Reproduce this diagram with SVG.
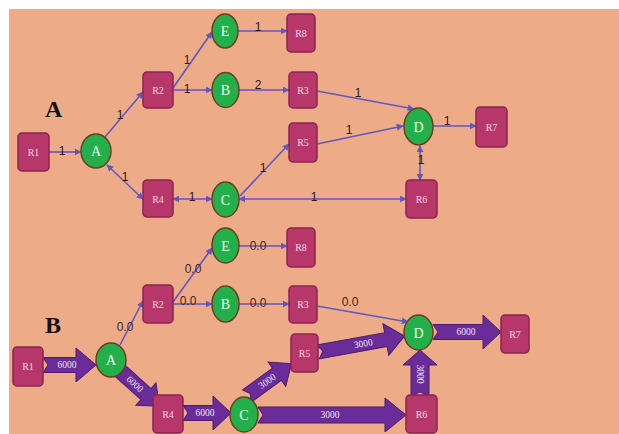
<svg xmlns="http://www.w3.org/2000/svg" width="619" height="434" viewBox="0 0 619 434">
<defs>
<marker id="ah" viewBox="0 0 10 10" refX="9" refY="5" markerWidth="7" markerHeight="7" markerUnits="userSpaceOnUse" orient="auto-start-reverse">
<path d="M0,0 L10,5 L0,10 z" fill="#6057c0"/>
</marker>
</defs>
<style>
.rn{fill:#b8376b;stroke:#8a2452;stroke-width:1.5}
.cn{fill:#23b04b;stroke:#6b3e25;stroke-width:1.5}
.nt{font-family:"Liberation Serif",serif;font-size:10px;fill:#f3d6e4;text-anchor:middle}
.ct{font-family:"Liberation Serif",serif;font-size:14px;fill:#eef8ee;text-anchor:middle}
.e{stroke:#6057c0;stroke-width:1.6;fill:none;marker-end:url(#ah)}
.b{marker-start:url(#ah)}
.lb{font-family:"Liberation Sans",sans-serif;font-size:12px;fill:#2a1a10;text-anchor:middle}
.lz{font-family:"Liberation Sans",sans-serif;font-size:12px;fill:#3f2814;text-anchor:middle}
.ba{fill:#6a2c98;stroke:#4a1c6e;stroke-width:1}
.bt{font-family:"Liberation Serif",serif;font-size:9.5px;fill:#efe4f6;text-anchor:middle}
.sec{font-family:"Liberation Serif",serif;font-size:24px;font-weight:bold;fill:#111}
</style>
<rect x="9" y="9" width="610" height="425" fill="#edab88"/>
<text class="sec" x="45" y="117">A</text>
<text class="sec" x="45" y="333">B</text>

<g id="connectors">
<!-- Part A -->
<line class="e" x1="49" y1="152" x2="81" y2="152"/>
<line class="e" x1="105" y1="137" x2="143" y2="92"/>
<line class="e" x1="173" y1="88" x2="212" y2="32"/>
<line class="e" x1="173" y1="90" x2="212" y2="90"/>
<line class="e" x1="238" y1="31" x2="287" y2="31"/>
<line class="e" x1="239" y1="90" x2="289" y2="90"/>
<line class="e" x1="317" y1="91" x2="414" y2="109"/>
<line class="e" x1="317" y1="144" x2="403" y2="126"/>
<line class="e" x1="433" y1="126" x2="476" y2="126"/>
<line class="e b" x1="420" y1="146" x2="420" y2="180"/>
<line class="e b" x1="107" y1="165" x2="143" y2="199"/>
<line class="e b" x1="173" y1="199" x2="212" y2="199"/>
<line class="e b" x1="239" y1="199" x2="406" y2="199"/>
<line class="e" x1="240" y1="196" x2="289" y2="144"/>
<text class="lb" x="62" y="155">1</text>
<text class="lb" x="120" y="119">1</text>
<text class="lb" x="187" y="64">1</text>
<text class="lb" x="187" y="93">1</text>
<text class="lb" x="258" y="31">1</text>
<text class="lb" x="258" y="89">2</text>
<text class="lb" x="125" y="181">1</text>
<text class="lb" x="192" y="201">1</text>
<text class="lb" x="263" y="172">1</text>
<text class="lb" x="314" y="201">1</text>
<text class="lb" x="358" y="97">1</text>
<text class="lb" x="349" y="134">1</text>
<text class="lb" x="447" y="125">1</text>
<text class="lb" x="421" y="164">1</text>

<!-- Part B thin -->
<line class="e" x1="120" y1="345" x2="143" y2="301"/>
<line class="e" x1="173" y1="302" x2="212" y2="248"/>
<line class="e" x1="173" y1="304" x2="212" y2="304"/>
<line class="e" x1="239" y1="246" x2="287" y2="246"/>
<line class="e" x1="239" y1="304" x2="289" y2="304"/>
<line class="e" x1="317" y1="306" x2="408" y2="322"/>
<text class="lz" x="125" y="331">0.0</text>
<text class="lz" x="193" y="273">0.0</text>
<text class="lz" x="188" y="305">0.0</text>
<text class="lz" x="258" y="250">0.0</text>
<text class="lz" x="258" y="307">0.0</text>
<text class="lz" x="350" y="306">0.0</text>

<!-- Part B block arrows -->
<g transform="translate(43,365)">
<polygon class="ba" points="0,-7.5 33,-7.5 33,-17 53,0 33,17 33,7.5 0,7.5 5,0"/>
<text class="bt" x="24" y="3">6000</text>
</g>
<g transform="translate(117,368) rotate(42)">
<polygon class="ba" points="0,-7.5 39,-7.5 39,-15 57,0 39,15 39,7.5 0,7.5 4,0"/>
<text class="bt" x="24" y="3">6000</text>
</g>
<g transform="translate(183,413)">
<polygon class="ba" points="0,-7.5 30,-7.5 30,-17 48,0 30,17 30,7.5 0,7.5 5,0"/>
<text class="bt" x="22" y="3">6000</text>
</g>
<g transform="translate(247,396) rotate(-36)">
<polygon class="ba" points="0,-7.5 37,-7.5 37,-15 55,0 37,15 37,7.5 0,7.5 4,0"/>
<text class="bt" x="25" y="3">3000</text>
</g>
<g transform="translate(258,415)">
<polygon class="ba" points="0,-8 127,-8 127,-17 148,0 127,17 127,8 0,8 5,0"/>
<text class="bt" x="72" y="3">3000</text>
</g>
<g transform="translate(318,352) rotate(-10.4)">
<polygon class="ba" points="0,-7 69,-7 69,-16 88,0 69,16 69,7 0,7 5,0"/>
<text class="bt" x="46" y="3">3000</text>
</g>
<g transform="translate(420,396) rotate(-90)">
<polygon class="ba" points="0,-9 31,-9 31,-17 46,0 31,17 31,9 0,9 4,0"/>
<text class="bt" x="22" y="3" transform="rotate(180 22 0)">3000</text>
</g>
<g transform="translate(433,332)">
<polygon class="ba" points="0,-7.5 50,-7.5 50,-17 68,0 50,17 50,7.5 0,7.5 5,0"/>
<text class="bt" x="33" y="3">6000</text>
</g>
</g>

<!-- Part A nodes -->
<g id="a-R1"><rect class="rn" x="18" y="133" width="31" height="38" rx="4"/><text class="nt" x="33.5" y="156">R1</text></g>
<g id="a-A"><ellipse class="cn" cx="96" cy="151" rx="15" ry="17"/><text class="ct" x="96" y="156">A</text></g>
<g id="a-R2"><rect class="rn" x="143" y="72" width="30" height="36" rx="4"/><text class="nt" x="158" y="94">R2</text></g>
<g id="a-E"><ellipse class="cn" cx="225" cy="31" rx="13" ry="17"/><text class="ct" x="225" y="36">E</text></g>
<g id="a-R8"><rect class="rn" x="287" y="14" width="28" height="38" rx="4"/><text class="nt" x="301" y="37">R8</text></g>
<g id="a-B"><ellipse class="cn" cx="225.5" cy="90" rx="13.5" ry="17.5"/><text class="ct" x="225.5" y="95">B</text></g>
<g id="a-R3"><rect class="rn" x="289" y="72" width="28" height="36" rx="4"/><text class="nt" x="303" y="94">R3</text></g>
<g id="a-R5"><rect class="rn" x="289" y="123" width="28" height="39" rx="4"/><text class="nt" x="303" y="146">R5</text></g>
<g id="a-R4"><rect class="rn" x="143" y="180" width="30" height="37" rx="4"/><text class="nt" x="158" y="203">R4</text></g>
<g id="a-C"><ellipse class="cn" cx="225.5" cy="199.5" rx="13.5" ry="17.5"/><text class="ct" x="225.5" y="205">C</text></g>
<g id="a-D"><ellipse class="cn" cx="418.5" cy="126.5" rx="14.5" ry="18.5"/><text class="ct" x="418.5" y="132">D</text></g>
<g id="a-R7"><rect class="rn" x="476" y="107" width="31" height="40" rx="4"/><text class="nt" x="491.5" y="131">R7</text></g>
<g id="a-R6"><rect class="rn" x="406" y="180" width="31" height="38" rx="4"/><text class="nt" x="421.5" y="203">R6</text></g>

<!-- Part B nodes -->
<g id="b-R1"><rect class="rn" x="13" y="347" width="30" height="39" rx="4"/><text class="nt" x="28" y="370">R1</text></g>
<g id="b-A"><ellipse class="cn" cx="111" cy="360" rx="15" ry="17"/><text class="ct" x="111" y="365">A</text></g>
<g id="b-R2"><rect class="rn" x="143" y="285" width="30" height="38" rx="4"/><text class="nt" x="158" y="308">R2</text></g>
<g id="b-E"><ellipse class="cn" cx="225.5" cy="245.5" rx="13.5" ry="17.5"/><text class="ct" x="225.5" y="251">E</text></g>
<g id="b-R8"><rect class="rn" x="287" y="228" width="28" height="39" rx="4"/><text class="nt" x="301" y="251">R8</text></g>
<g id="b-B"><ellipse class="cn" cx="225.5" cy="304" rx="13.5" ry="18"/><text class="ct" x="225.5" y="309">B</text></g>
<g id="b-R3"><rect class="rn" x="289" y="286" width="28" height="37" rx="4"/><text class="nt" x="303" y="308">R3</text></g>
<g id="b-R5"><rect class="rn" x="291" y="334" width="27" height="38" rx="4"/><text class="nt" x="304.5" y="357">R5</text></g>
<g id="b-R4"><rect class="rn" x="153" y="395" width="30" height="38" rx="4"/><text class="nt" x="168" y="418">R4</text></g>
<g id="b-C"><ellipse class="cn" cx="244" cy="414.5" rx="14" ry="17.5"/><text class="ct" x="244" y="420">C</text></g>
<g id="b-D"><ellipse class="cn" cx="418.5" cy="332.5" rx="14.5" ry="17.5"/><text class="ct" x="418.5" y="338">D</text></g>
<g id="b-R7"><rect class="rn" x="501" y="315" width="28" height="38" rx="4"/><text class="nt" x="515" y="338">R7</text></g>
<g id="b-R6"><rect class="rn" x="406" y="395" width="31" height="38" rx="4"/><text class="nt" x="421.5" y="418">R6</text></g>
</svg>
